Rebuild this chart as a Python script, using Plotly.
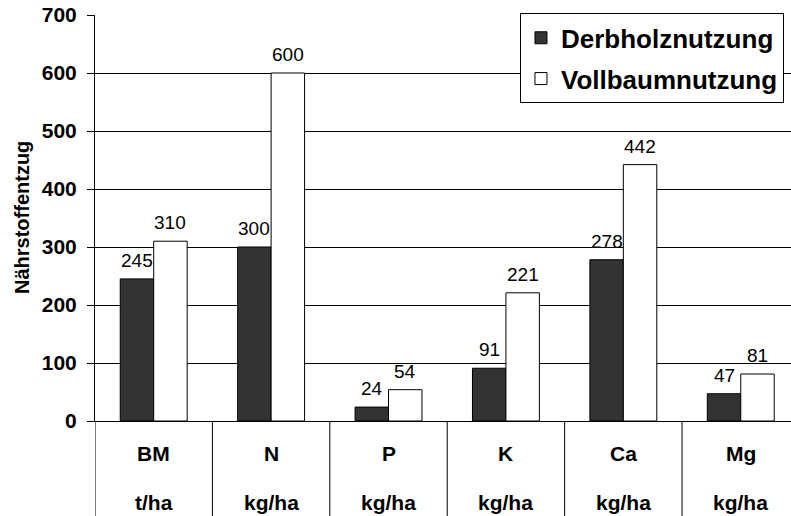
import plotly.graph_objects as go

# Nutrient removal by harvest method
elements = ["BM", "N", "P", "K", "Ca", "Mg"]
units = ["t/ha", "kg/ha", "kg/ha", "kg/ha", "kg/ha", "kg/ha"]
derbholz = [245, 300, 24, 91, 278, 47]
vollbaum = [310, 600, 54, 221, 442, 81]
series_names = ["Derbholznutzung", "Vollbaumnutzung"]
y_ticks = [0, 100, 200, 300, 400, 500, 600, 700]

FONT = "Liberation Sans, Arial, sans-serif"
BARGAP = 0.43
xpos = list(range(len(elements)))

fig = go.Figure()
fig.add_trace(go.Bar(
    x=xpos, y=derbholz, name=series_names[0], legendgroup="a",
    marker=dict(color="#333333", line=dict(color="#000000", width=1)),
))
fig.add_trace(go.Bar(
    x=xpos, y=vollbaum, name=series_names[1], legendgroup="b",
    marker=dict(color="#ffffff", line=dict(color="#000000", width=1)),
))

# value labels above each bar, offset to the bar's slot within the group
half = (1 - BARGAP) / 4
for series, dx in ((derbholz, -half), (vollbaum, half)):
    for i, v in enumerate(series):
        fig.add_annotation(x=i + dx, y=v, xref="x", yref="y",
                           text=str(v), showarrow=False,
                           yanchor="bottom", yshift=6,
                           font=dict(family=FONT, size=19, color="#000000"))

# category table below the axis: separators and two label rows
for i in range(len(elements)):
    fig.add_shape(type="line", xref="x", yref="paper",
                  x0=i - 0.5, x1=i - 0.5, y0=0, y1=-0.3,
                  line=dict(color="#000000", width=1))
    fig.add_annotation(x=i, y=-0.113, xref="x", yref="paper",
                       text=elements[i], showarrow=False,
                       font=dict(family=FONT, size=21, color="#000000", weight="bold"))
    fig.add_annotation(x=i, y=-0.235, xref="x", yref="paper",
                       text=units[i], showarrow=False,
                       font=dict(family=FONT, size=21, color="#000000", weight="bold"))

fig.add_annotation(x=0, y=0.5, xref="paper", yref="paper", xshift=-86,
                   text="Nährstoffentzug", textangle=-90, showarrow=False,
                   font=dict(family=FONT, size=20, color="#000000", weight="bold"))

fig.update_layout(
    width=791, height=516,
    margin=dict(l=95, r=0, t=15, b=95),
    paper_bgcolor="#ffffff", plot_bgcolor="#ffffff",
    barmode="group", bargap=BARGAP, bargroupgap=0,
    showlegend=True,
    legend=dict(
        x=0.6106, y=1.004, xanchor="left", yanchor="top",
        bgcolor="#ffffff", bordercolor="#000000", borderwidth=1,
        font=dict(family=FONT, size=26, color="#000000", weight="bold"),
        traceorder="grouped", tracegroupgap=4,
    ),
    xaxis=dict(
        range=[-0.5, 5.428], showticklabels=False, ticks="",
        showgrid=False, zeroline=False,
        showline=True, linecolor="#000000", linewidth=1,
    ),
    yaxis=dict(
        range=[0, 700], tickvals=y_ticks,
        ticks="outside", ticklen=7, tickcolor="#000000",
        ticklabelstandoff=6,
        tickfont=dict(family=FONT, size=21, color="#000000", weight="bold"),
        showgrid=True, gridcolor="#000000", gridwidth=1,
        zeroline=False,
        showline=True, linecolor="#000000", linewidth=1,
    ),
)

fig.write_html("out.html")
